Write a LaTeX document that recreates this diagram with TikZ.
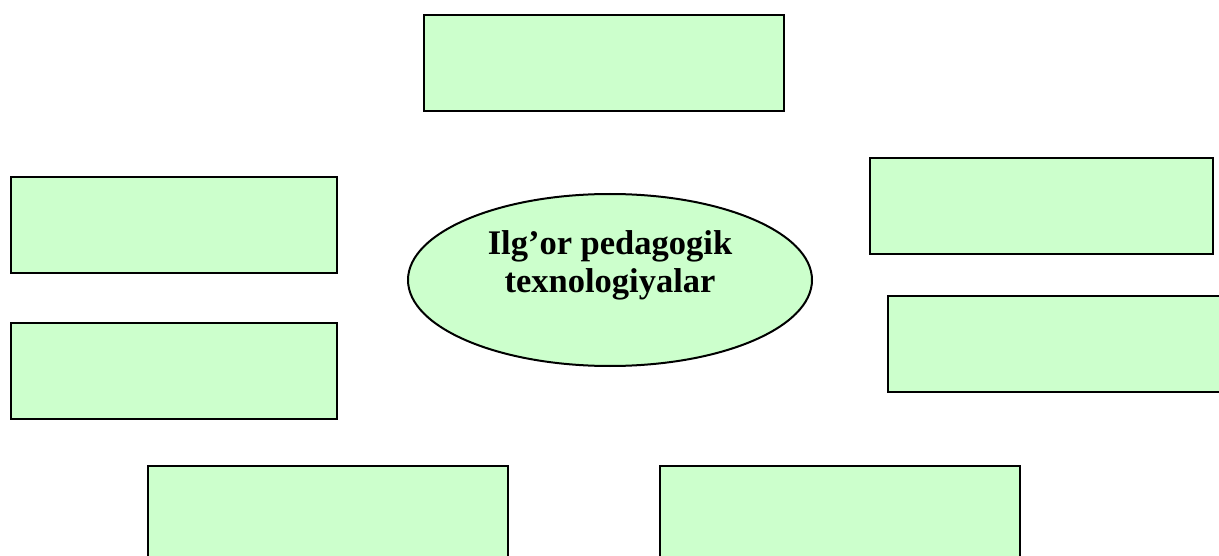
\documentclass[tikz,border=0pt]{standalone}
\usepackage{fontspec}
\setmainfont{Liberation Serif}
\usetikzlibrary{shapes.geometric}
\definecolor{mint}{HTML}{CCFFCC}

\begin{document}
\begin{tikzpicture}[x=1pt,y=-1pt,
    cell/.style={rectangle,draw=black,fill=mint,line width=2.4pt,minimum width=#1,minimum height=96pt,inner sep=0pt,anchor=north west},
    hub/.style={ellipse,draw=black,fill=mint,line width=2pt,minimum width=404pt,minimum height=172pt,inner sep=0pt},
    title/.style={font=\bfseries\fontsize{34.5}{38}\selectfont,align=center},
]
    \clip (0,0) rectangle (1219,556);
    % central idea
    \node[hub] (hub) at (610,280) {};
    \node[title] (topic) at (610,265) {Ilg’or pedagogik\\texnologiyalar};
    % empty boxes around it
    \node[cell=360pt] (top) at (423,14) {};
    \node[cell=326pt] (left1) at (10,176) {};
    \node[cell=326pt] (left2) at (10,322) {};
    \node[cell=343pt] (right1) at (869,157) {};
    \node[cell=343pt] (right2) at (887,295) {};
    \node[cell=360pt] (bottom1) at (147,465) {};
    \node[cell=360pt] (bottom2) at (659,465) {};
\end{tikzpicture}
\end{document}
